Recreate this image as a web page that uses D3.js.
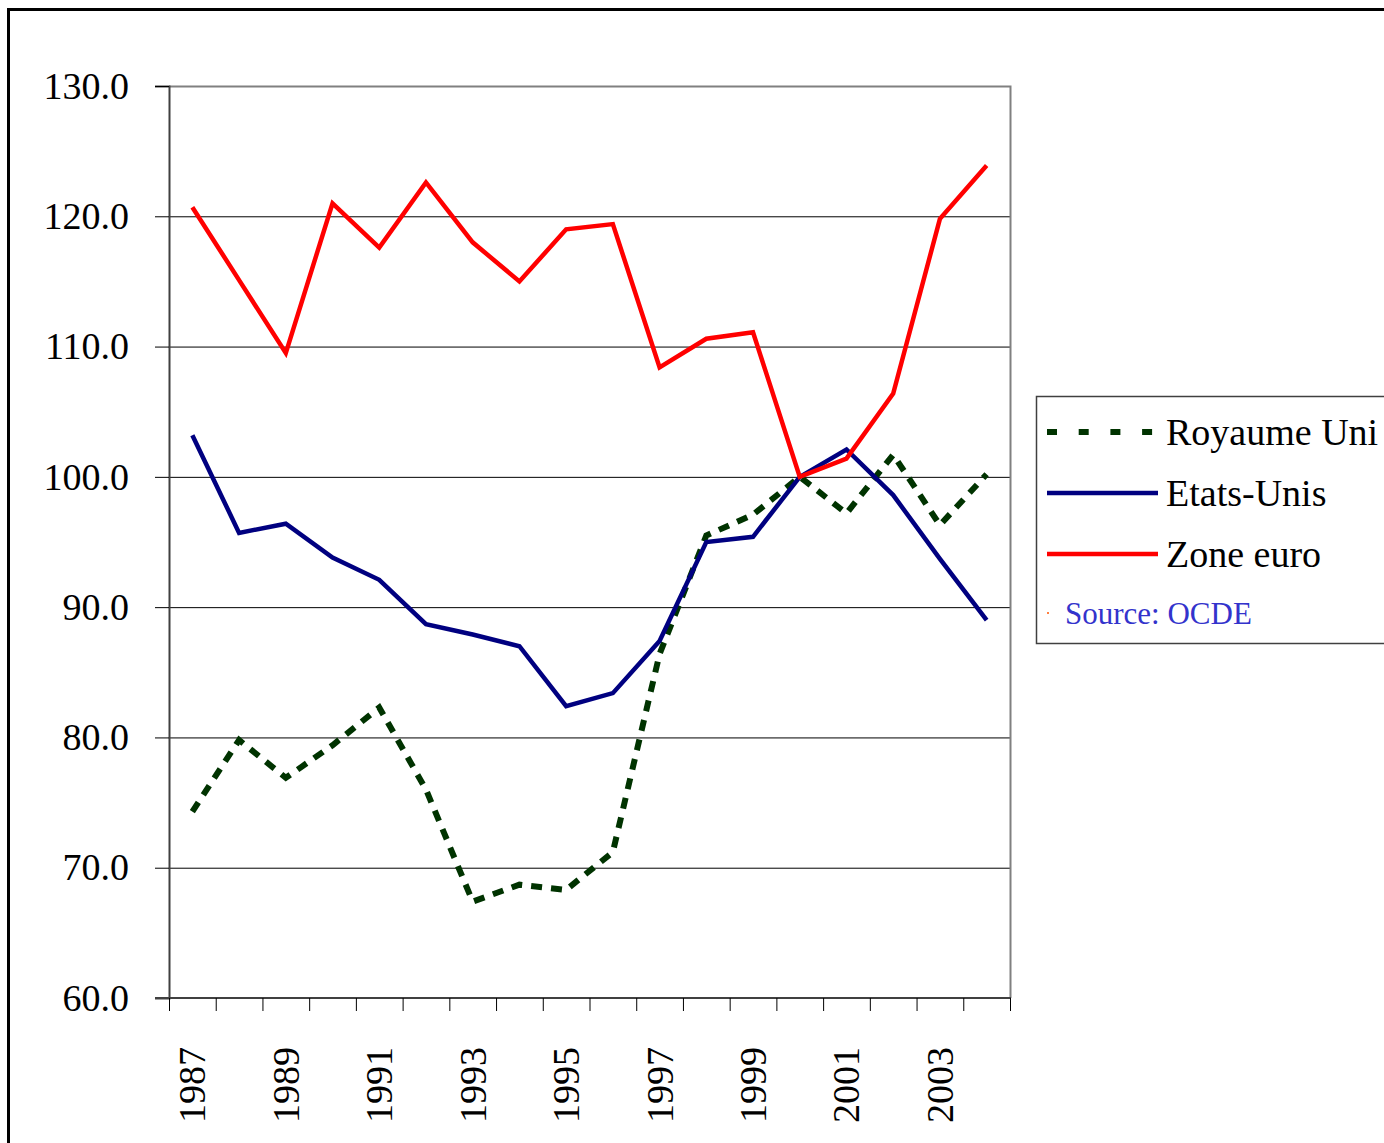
<!DOCTYPE html>
<html>
<head>
<meta charset="utf-8">
<script src="https://cdn.jsdelivr.net/npm/d3@7"></script>
<style>
  body { margin: 0; background: #fff; }
  svg { display: block; }
</style>
</head>
<body>
<div id="chart"></div>
<script>
// Data (base 2000 = 100)
const years = [1987, 1988, 1989, 1990, 1991, 1992, 1993, 1994, 1995, 1996,
  1997, 1998, 1999, 2000, 2001, 2002, 2003, 2004];
const royaumeUni = [74.3, 79.8, 76.9, 79.4, 82.3, 76.0, 67.4, 68.7, 68.3, 71.2,
  86.4, 95.5, 97.1, 100.0, 97.2, 101.7, 96.3, 100.2];
const etatsUnis = [103.2, 95.7, 96.4, 93.8, 92.1, 88.7, 87.9, 87.0, 82.4, 83.4,
  87.4, 95.0, 95.4, 100.0, 102.1, 98.6, 93.7, 89.0];
const zoneEuro = [120.7, 115.1, 109.5, 121.0, 117.6, 122.6, 118.0, 115.0, 119.0, 119.4,
  108.4, 110.6, 111.1, 100.0, 101.4, 106.4, 119.8, 123.9];
const yTicks = [60, 70, 80, 90, 100, 110, 120, 130];
const yearLabels = [1987, 1989, 1991, 1993, 1995, 1997, 1999, 2001, 2003];

const series = [
  { name: "Royaume Uni", values: royaumeUni, color: "#003300", width: 6, dash: "11,9", legendDash: "10,21.7" },
  { name: "Etats-Unis", values: etatsUnis, color: "#000080", width: 4.5, dash: null },
  { name: "Zone euro", values: zoneEuro, color: "#ff0000", width: 4.5, dash: null }
];

const FONT = "'Liberation Serif', 'Times New Roman', Times, serif";
const width = 1384, height = 1143;
const plot = { left: 169, top: 86, right: 1010, bottom: 998 };

const svg = d3.select("#chart").append("svg")
  .attr("width", width)
  .attr("height", height)
  .style("font-family", FONT);

// outer frame (runs off the picture on the right and bottom)
svg.append("rect")
  .attr("x", 8.5).attr("y", 9.5)
  .attr("width", 1400).attr("height", 1160)
  .attr("fill", "none")
  .attr("stroke", "#000")
  .attr("stroke-width", 3);

const x = d3.scaleBand()
  .domain(years)
  .range([plot.left, plot.right])
  .paddingInner(0).paddingOuter(0);
const cx = (yr) => x(yr) + x.bandwidth() / 2;

const y = d3.scaleLinear()
  .domain([60, 130])
  .range([plot.bottom, plot.top]);

// gridlines
svg.append("g")
  .selectAll("line")
  .data(yTicks.filter((d) => d > 60 && d < 130))
  .enter().append("line")
  .attr("x1", plot.left).attr("x2", plot.right)
  .attr("y1", (d) => y(d) + 0.5).attr("y2", (d) => y(d) + 0.5)
  .attr("stroke", "#000")
  .attr("stroke-width", 1);

// plot area border, top and right
svg.append("path")
  .attr("d", `M${plot.left},${plot.top + 0.5}H${plot.right + 0.5}V${plot.bottom}`)
  .attr("fill", "none")
  .attr("stroke", "#808080")
  .attr("stroke-width", 2);

// y axis
const yAxis = d3.axisLeft(y)
  .tickValues(yTicks)
  .tickSize(14)
  .tickPadding(26)
  .tickFormat(d3.format(".1f"));
const gy = svg.append("g")
  .attr("transform", `translate(${plot.left},0)`)
  .call(yAxis)
  .attr("font-family", null)
  .attr("font-size", null);
gy.select(".domain").attr("stroke", "#404040").attr("stroke-width", 2);
gy.selectAll(".tick line").attr("stroke", "#000");
gy.selectAll(".tick text")
  .style("font-family", FONT)
  .style("font-size", "38px")
  .attr("fill", "#000");

// x axis: ticks on category boundaries
const boundaries = years.map((d) => x(d)).concat([plot.right]);
svg.append("line")
  .attr("x1", plot.left - 14).attr("x2", plot.right + 1)
  .attr("y1", plot.bottom).attr("y2", plot.bottom)
  .attr("stroke", "#404040").attr("stroke-width", 2);
svg.append("g")
  .selectAll("line")
  .data(boundaries)
  .enter().append("line")
  .attr("x1", (d) => d + 0.5).attr("x2", (d) => d + 0.5)
  .attr("y1", plot.bottom).attr("y2", plot.bottom + 13)
  .attr("stroke", "#000");

svg.append("g")
  .selectAll("text")
  .data(yearLabels)
  .enter().append("text")
  .attr("transform", (d) => `translate(${cx(d) + 13},1047) rotate(-90)`)
  .attr("text-anchor", "end")
  .style("font-family", FONT)
  .style("font-size", "38px")
  .text((d) => d);

// lines
const line = d3.line()
  .x((d, i) => cx(years[i]))
  .y((d) => y(d));

svg.append("g")
  .selectAll("path")
  .data(series)
  .enter().append("path")
  .attr("d", (d) => line(d.values))
  .attr("fill", "none")
  .attr("stroke", (d) => d.color)
  .attr("stroke-width", (d) => d.width)
  .attr("stroke-dasharray", (d) => d.dash)
  .attr("stroke-linejoin", "miter");

// legend
const legend = svg.append("g").attr("transform", "translate(1036,396)");
legend.append("rect")
  .attr("x", 0.5).attr("y", 0.5)
  .attr("width", 400).attr("height", 247)
  .attr("fill", "#fff")
  .attr("stroke", "#404040")
  .attr("stroke-width", 1.5);

const lg = legend.selectAll("g.item")
  .data(series)
  .enter().append("g")
  .attr("class", "item")
  .attr("transform", (d, i) => `translate(0,${36 + i * 61})`);
lg.append("line")
  .attr("x1", 11).attr("x2", 122)
  .attr("stroke", (d) => d.color)
  .attr("stroke-width", (d) => (d.dash ? 6 : 4.5))
  .attr("stroke-dasharray", (d) => d.legendDash || null);
lg.append("text")
  .attr("x", 130)
  .attr("y", 13)
  .style("font-family", FONT)
  .style("font-size", "38px")
  .text((d) => d.name);

legend.append("rect")
  .attr("x", 11).attr("y", 216)
  .attr("width", 2).attr("height", 2)
  .attr("fill", "#ff8040");
legend.append("text")
  .attr("x", 29).attr("y", 228)
  .style("font-family", FONT)
  .style("font-size", "31px")
  .attr("fill", "#3333cc")
  .text("Source: OCDE");
</script>
</body>
</html>
